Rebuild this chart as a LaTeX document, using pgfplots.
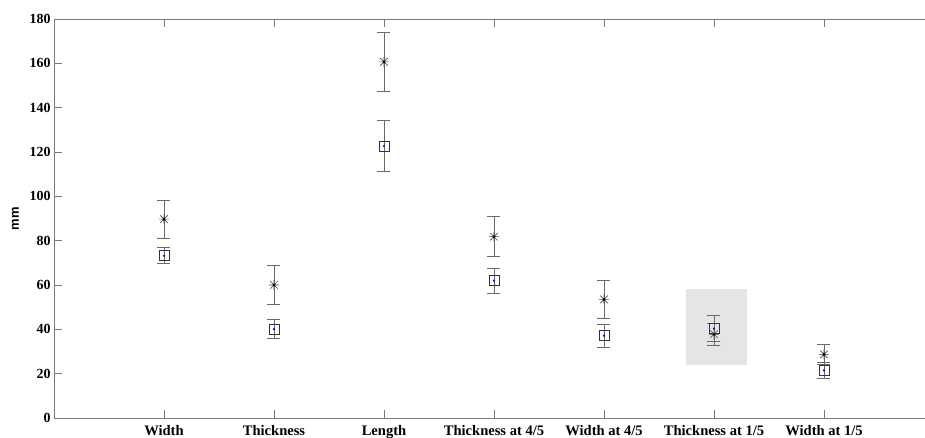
\documentclass[border=0pt]{standalone}
\usepackage{fontspec}
\setmainfont{Liberation Serif}
\newfontfamily\labelfont{Liberation Sans}
\usepackage{pgfplots}
\usepackage{pgfplotstable}
\pgfplotsset{compat=1.18}

% eight-armed asterisk (plus and cross combined)
\pgfdeclareplotmark{asterisk8}{%
  \pgfpathmoveto{\pgfqpoint{-\pgfplotmarksize}{0pt}}%
  \pgfpathlineto{\pgfqpoint{\pgfplotmarksize}{0pt}}%
  \pgfpathmoveto{\pgfqpoint{0pt}{-\pgfplotmarksize}}%
  \pgfpathlineto{\pgfqpoint{0pt}{\pgfplotmarksize}}%
  \pgfpathmoveto{\pgfqpoint{-0.75\pgfplotmarksize}{-0.75\pgfplotmarksize}}%
  \pgfpathlineto{\pgfqpoint{0.75\pgfplotmarksize}{0.75\pgfplotmarksize}}%
  \pgfpathmoveto{\pgfqpoint{-0.75\pgfplotmarksize}{0.75\pgfplotmarksize}}%
  \pgfpathlineto{\pgfqpoint{0.75\pgfplotmarksize}{-0.75\pgfplotmarksize}}%
  \pgfusepathqstroke
}

\definecolor{axisgray}{HTML}{7A7A7A}
\definecolor{bargray}{HTML}{6A6A6A}
\definecolor{boxgray}{HTML}{E5E5E5}

% mean and half-range per measurement
\pgfplotstableread{
x  y      e
1  89.7   8.6
2  60.0   8.6
3  160.65 13.45
4  81.8   8.95
5  53.5   8.75
6  37.8   4.95
7  28.7   4.5
}\seriesA
\pgfplotstableread{
x  y      e
1  73.2   3.6
2  40.1   4.3
3  122.7  11.7
4  61.95  5.55
5  37.15  5.15
6  40.4   5.8
7  21.5   3.55
}\seriesB

\begin{document}
\begin{tikzpicture}
\begin{axis}[
  scale only axis,
  width=880bp, height=399bp,
  xmin=0, xmax=8,
  ymin=0, ymax=180,
  xtick={1,...,7},
  xticklabels={Width,Thickness,Length,Thickness at 4/5,Width at 4/5,Thickness at 1/5,Width at 1/5},
  ytick={0,20,...,180},
  /pgf/number format/assume math mode=true,
  ticklabel style={text=black},
  xticklabel style={font=\bfseries\fontsize{14.6}{17}\selectfont, yshift=-4bp},
  yticklabel style={font=\bfseries\fontsize{14}{16}\selectfont},
  axis line style={draw=axisgray, line width=0.9bp},
  major tick style={draw=axisgray, line width=0.9bp},
  major tick length=8bp,
  ylabel={mm},
  ylabel style={at={(axis description cs:0,0.5)}, anchor=center, yshift=38.5bp, xshift=0bp,
    font=\labelfont\bfseries\fontsize{13}{15}\selectfont},
  clip=false,
]
\coordinate (O) at (rel axis cs:0,0);
\fill[boxgray] (axis cs:5.75,24) rectangle (axis cs:6.3,58.2);

\addplot[only marks, mark=asterisk8, mark size=5bp, mark options={draw=black!70, line width=0.6bp},
  error bars/.cd, y dir=both, y explicit,
  error bar style={draw=bargray, line width=0.9bp},
  error mark options={rotate=90, mark size=6.5bp, draw=bargray, line width=0.9bp}]
  table[x=x, y=y, y error=e] {\seriesA};
\addplot[only marks, mark=*, mark size=1.1bp, black] table[x=x, y=y] {\seriesA};

\addplot[only marks, mark=square, mark size=5bp, mark options={draw=black!80, line width=0.8bp},
  error bars/.cd, y dir=both, y explicit,
  error bar style={draw=bargray, line width=0.9bp},
  error mark options={rotate=90, mark size=6.5bp, draw=bargray, line width=0.9bp}]
  table[x=x, y=y, y error=e] {\seriesB};
\addplot[only marks, mark=*, mark size=0.9bp, blue] table[x=x, y=y] {\seriesB};
\end{axis}
\pgfresetboundingbox
\path (O) ++(-54bp,-20bp) rectangle ++(925bp,438bp);
\end{tikzpicture}
\end{document}
